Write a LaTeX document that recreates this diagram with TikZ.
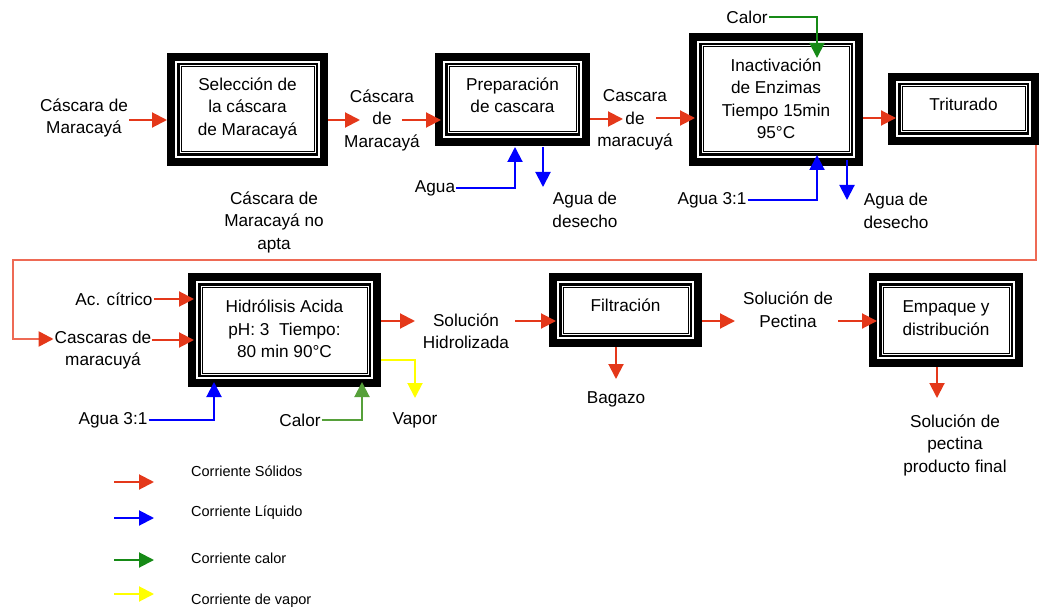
\documentclass[tikz,border=0pt]{standalone}
\usepackage{fontspec}
\setmainfont{Liberation Sans}
\usetikzlibrary{arrows.meta}
\definecolor{sred}{HTML}{E4381A}
\definecolor{sredl}{HTML}{EE6A55}
\definecolor{sblue}{HTML}{0000FF}
\definecolor{sgreen}{HTML}{168A16}
\definecolor{sgreenl}{HTML}{56A03A}
\definecolor{syellow}{HTML}{FFFF00}
\newcommand\mainfs{\fontsize{17.2}{22.5}\selectfont}
\newcommand\legfs{\fontsize{14.5}{18}\selectfont}
\tikzset{
 tipstyle/.style={-{Triangle[length=15pt,width=15pt]}},
 sol/.style={tipstyle, draw=sred, line width=2pt},
 liq/.style={tipstyle, draw=sblue, line width=2pt},
 heat/.style={tipstyle, draw=sgreen, line width=2pt},
 heatl/.style={tipstyle, draw=sgreenl, line width=2pt},
 vap/.style={tipstyle, draw=syellow, line width=2pt},
 loopline/.style={-{Triangle[length=15pt,width=15pt,color=sred]}, draw=sredl, line width=2.5pt},
 lbl/.style={align=center, inner sep=1pt, font=\mainfs},
 leg/.style={anchor=west, inner sep=0pt, font=\legfs},
 procbox/.style={inner sep=0pt, outer sep=0pt}
}
\newcommand\procnode[7]{%
 \node[procbox, minimum width=#4pt, minimum height=#5pt] (#1) at (#2,#3) {};
 \draw[line width=8pt] ([xshift=4pt,yshift=-4pt]#1.north west) rectangle ([xshift=-4pt,yshift=4pt]#1.south east);
 \draw[line width=2.5pt] ([xshift=11.25pt,yshift=-11.25pt]#1.north west) rectangle ([xshift=-11.25pt,yshift=11.25pt]#1.south east);
 \draw[line width=1pt] ([xshift=14pt,yshift=-14pt]#1.north west) rectangle ([xshift=-14pt,yshift=14pt]#1.south east);
 \node[lbl] (#1-t) at ([yshift=#7pt]#1.center) {#6};
}
\begin{document}
\begin{tikzpicture}[x=1pt,y=-1pt]
\useasboundingbox (0,0) rectangle (1040,612);
% process boxes
\procnode{sel}{247.5}{109.5}{161}{113}{Selección de\\la cáscara\\de Maracayá}{1.5}
\procnode{prep}{512.5}{99.5}{155}{93}{Preparación\\de cascara}{4}
\procnode{inact}{776}{99.5}{174}{133}{Inactivación\\de Enzimas\\Tiempo 15min\\95°C}{0.5}
\procnode{trit}{963.5}{109}{151}{72}{Triturado}{5}
\procnode{hidro}{284.5}{330}{193}{114}{Hidrólisis Acida\\pH: 3\ \ Tiempo:\\80 min 90°C}{1}
\procnode{filt}{625.5}{310}{153}{74}{Filtración}{5}
\procnode{emp}{946}{320}{154}{94}{Empaque y\\distribución}{2}
% labels
\node[lbl] (l1) at (84,118) {Cáscara de\\Maracayá};
\node[lbl] (l2) at (382,120) {Cáscara\\de\\Maracayá};
\node[lbl] (l3) at (635,120) {Cascara\\de\\maracuyá};
\node[lbl] (noapta) at (274,222) {Cáscara de\\Maracayá no\\apta};
\node[lbl] (agua1) at (435,188) {Agua};
\node[lbl] (des1) at (585,210) {Agua de\\desecho};
\node[lbl] (calor1) at (747,17) {Calor};
\node[lbl] (agua2) at (712,200) {Agua 3:1};
\node[lbl] (des2) at (896,211) {Agua de\\desecho};
\node[lbl] (acid) at (114,299) {Ac. cítrico};
\node[lbl] (casc) at (103,350) {Cascaras de\\maracuyá};
\node[lbl] (solh) at (466,331) {Solución\\Hidrolizada};
\node[lbl] (agua3) at (113,420) {Agua 3:1};
\node[lbl] (calor2) at (300,420) {Calor};
\node[lbl] (vapor) at (415,420) {Vapor};
\node[lbl] (bag) at (616,399) {Bagazo};
\node[lbl] (solp) at (788,309.5) {Solución de\\Pectina};
\node[lbl] (final) at (955,445) {Solución de\\pectina\\producto final};
% top row connectors
\draw[sol] (l1.east |- 0,120) -- (sel.west |- 0,120);
\draw[sol] (sel.east |- 0,120) -- (360,120);
\draw[sol] (402,120) -- ([xshift=6pt]prep.west |- 0,120);
\draw[sol] (prep.east |- 0,119) -- (623,119);
\draw[sol] (656,118) -- ([xshift=6pt]inact.west |- 0,118);
\draw[sol] (inact.east |- 0,118) -- ([xshift=8pt]trit.west |- 0,118);
% water and heat, top
\draw[liq] (agua1.east) -| (515,147);
\draw[liq] (543,147) -- (543,187);
\draw[heat] (calor1.east) -| (817,58);
\draw[liq] (agua2.east) -| (817,155);
\draw[liq] (847,160) -- (847,200);
% loop
\coordinate (c1) at (1036,260);
\coordinate (c2) at (13,260);
\draw[loopline] ([xshift=-3pt]trit.south east) -- (c1) -- (c2) |- (casc.west |- 0,339);
% second row
\draw[sol] (acid.east |- 0,299) -- ([xshift=6pt]hidro.west |- 0,299);
\draw[sol] (casc.east |- 0,340) -- ([xshift=6pt]hidro.west |- 0,340);
\draw[sol] (hidro.east |- 0,321) -- (415,321);
\draw[sol] (515,321) -- ([xshift=7pt]filt.west |- 0,321);
\draw[sol] (filt.east |- 0,321) -- (735,321);
\draw[sol] (838,321) -- ([xshift=8pt]emp.west |- 0,321);
\draw[sol] (616,347) -- (616,379);
\draw[sol] (937,367) -- (937,398);
\draw[liq] (agua3.east) -| (214,382);
\draw[heatl] (calor2.east) -| (362,382);
\draw[vap] (hidro.east |- 0,360) -| (415,398);
% legend
\coordinate (g1a) at (114,482); \coordinate (g1b) at (154,482);
\coordinate (g2a) at (114,518); \coordinate (g2b) at (154,518);
\coordinate (g3a) at (114,560); \coordinate (g3b) at (154,560);
\coordinate (g4a) at (114,594); \coordinate (g4b) at (154,594);
\draw[sol] (g1a) -- (g1b);
\draw[liq] (g2a) -- (g2b);
\draw[heat] (g3a) -- (g3b);
\draw[vap] (g4a) -- (g4b);
\node[leg] (lg1) at (191,471) {Corriente Sólidos};
\node[leg] (lg2) at (191,513) {Corriente Líquido};
\node[leg] (lg3) at (191,558) {Corriente calor};
\node[leg] (lg4) at (191,601) {Corriente de vapor};
\end{tikzpicture}
\end{document}
